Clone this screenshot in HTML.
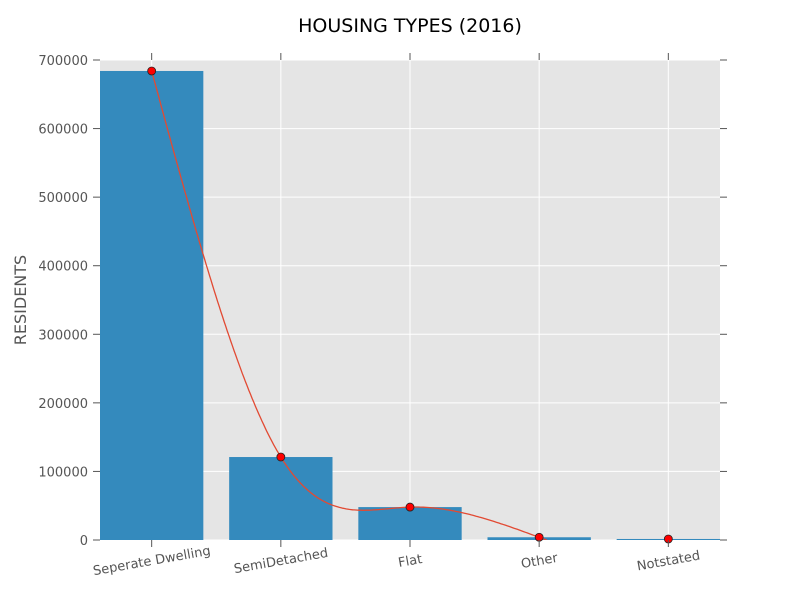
<!DOCTYPE html>
<html><head><meta charset="utf-8"><style>body{margin:0;background:#fff}svg{display:block;font-family:"DejaVu Sans","Liberation Sans",sans-serif}</style></head>
<body>
<svg id="chart" width="800" height="600" viewBox="0 0 800 600" xmlns="http://www.w3.org/2000/svg">
<defs><clipPath id="pc"><rect x="100" y="60" width="620" height="480"/></clipPath></defs>
<rect x="100" y="60" width="620" height="480" fill="#E5E5E5"/>
<g id="grid"></g><g id="bars"></g><g id="line"></g><g id="axes"></g>
<text x="410" y="32" text-anchor="middle" font-size="19" fill="#000">HOUSING TYPES (2016)</text>
<text transform="translate(26,300) rotate(-90)" text-anchor="middle" font-size="16" fill="#555">RESIDENTS</text>
</svg>
<script>
const categories=["Seperate Dwelling","SemiDetached","Flat","Other","Notstated"];
const residents=[684000,121000,48000,4000,1500];
const yTicks=[0,100000,200000,300000,400000,500000,600000,700000];
const NS="http://www.w3.org/2000/svg";
const L=100,R=720,T=60,B=540,yMax=700000;
const xs=i=>L+(i+0.4)*(R-L)/4.8;
const ys=v=>B-v/yMax*(B-T);
function mk(tag,at,p){const e=document.createElementNS(NS,tag);for(const k in at)e.setAttribute(k,at[k]);p.appendChild(e);return e;}
const grid=document.getElementById('grid'),bars=document.getElementById('bars'),line=document.getElementById('line'),axes=document.getElementById('axes');
yTicks.forEach(t=>{const y=ys(t);
 const g=mk('line',{x1:L,x2:R,y1:y,y2:y,stroke:'#fff','stroke-width':1},grid);
 
 
 mk('line',{x1:L-7,x2:L,y1:y,y2:y,stroke:'#555'},axes);
 mk('line',{x1:R,x2:R+7,y1:y,y2:y,stroke:'#555'},axes);
 const tx=mk('text',{x:L-12,y:y+5,'text-anchor':'end','font-size':13,fill:'#555'},axes);
 tx.textContent=t;
 
 
});
categories.forEach((c,i)=>{const x=xs(i);
 const g=mk('line',{x1:x,x2:x,y1:T,y2:B,stroke:'#fff'},grid);
 
 
 const w=0.8*(R-L)/4.8;
 const b=mk('rect',{x:x-w/2,y:ys(residents[i]),width:w,height:B-ys(residents[i]),fill:'#348ABD'},bars);
 
 
 mk('line',{x1:x,x2:x,y1:T-7,y2:T,stroke:'#555'},axes);
 mk('line',{x1:x,x2:x,y1:B,y2:B+7,stroke:'#555'},axes);
 const tx=mk('text',{x:x,y:B+25,'text-anchor':'middle','font-size':13,fill:'#555',transform:`rotate(-10 ${x} ${B+20})`},axes);
 tx.textContent=c;
 
 
});
// natural cubic spline through first four points
const k=4,yv=residents.slice(0,k),M=[0,0,0,0];
{const d1=6*(yv[2]-2*yv[1]+yv[0]),d2=6*(yv[3]-2*yv[2]+yv[1]);
 M[2]=(4*d2-d1)/15;M[1]=(d1-M[2])/4;}
function sp(t){let i=Math.min(Math.floor(t),k-2);const u=t-i;
 return M[i]*(1-u)**3/6+M[i+1]*u**3/6+(yv[i]-M[i]/6)*(1-u)+(yv[i+1]-M[i+1]/6)*u;}
let pts=[];
for(let s=0;s<=240;s++){const t=s/240*3.06;pts.push(xs(t).toFixed(1)+','+ys(sp(t)).toFixed(1));}
const pl=mk('polyline',{points:pts.join(' '),fill:'none',stroke:'#E24A33','stroke-width':1.3,'clip-path':'url(#pc)'},line);


residents.forEach((v,i)=>{const c=mk('circle',{cx:xs(i),cy:ys(v),r:4,fill:'#FF0000',stroke:'#222','stroke-width':0.8},line);
 
 });
</script>
</body></html>
